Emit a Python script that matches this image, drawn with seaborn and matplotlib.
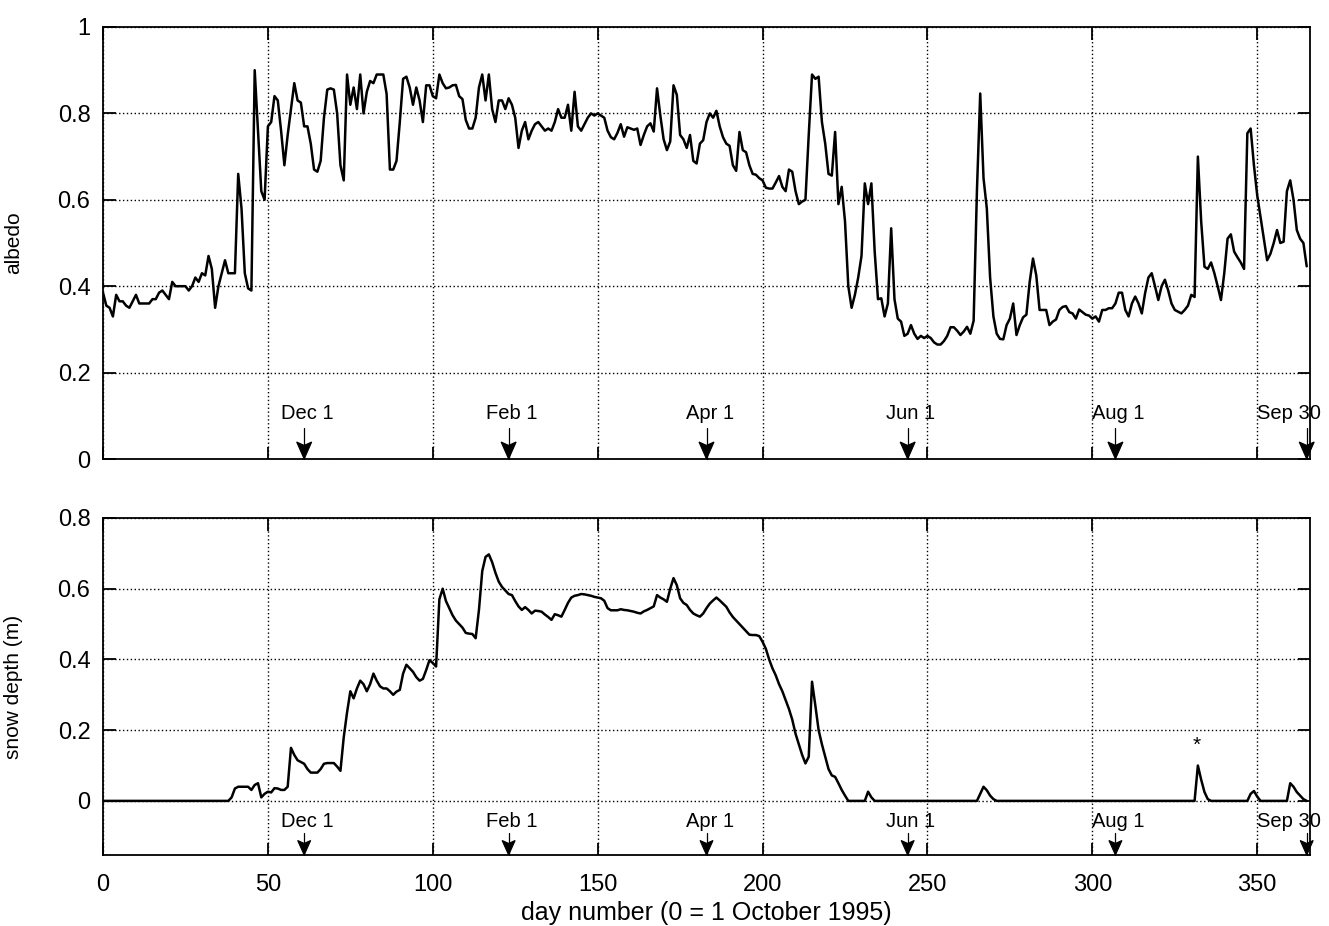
import numpy as np
import pandas as pd
import matplotlib
matplotlib.use("Agg")
import matplotlib.pyplot as plt
from matplotlib.patches import Polygon
from matplotlib.transforms import ScaledTranslation
from matplotlib.ticker import FuncFormatter
import seaborn as sns

# Daily surface albedo, day 0 = 1 October 1995
albedo = [
    0.385, 0.355, 0.35, 0.33, 0.38, 0.365, 0.365, 0.355, 0.35, 0.365,
    0.38, 0.36, 0.36, 0.36, 0.36, 0.37, 0.37, 0.385, 0.39, 0.38,
    0.37, 0.41, 0.40, 0.40, 0.40, 0.40, 0.39, 0.40, 0.42, 0.41,
    0.43, 0.425, 0.47, 0.44, 0.35, 0.40, 0.43, 0.46, 0.43, 0.43,
    0.43, 0.66, 0.58, 0.43, 0.395, 0.39, 0.90, 0.76, 0.62, 0.60,
    0.77, 0.78, 0.84, 0.83, 0.76, 0.68, 0.75, 0.81, 0.87, 0.83,
    0.825, 0.77, 0.77, 0.73, 0.67, 0.665, 0.69, 0.79, 0.855, 0.858,
    0.855, 0.80, 0.68, 0.645, 0.89, 0.82, 0.86, 0.81, 0.89, 0.80,
    0.85, 0.875, 0.87, 0.89, 0.89, 0.89, 0.845, 0.67, 0.67, 0.69,
    0.78, 0.88, 0.885, 0.86, 0.82, 0.86, 0.83, 0.78, 0.865, 0.865,
    0.84, 0.835, 0.89, 0.87, 0.858, 0.86, 0.865, 0.866, 0.84, 0.833,
    0.785, 0.765, 0.765, 0.79, 0.86, 0.89, 0.83, 0.89, 0.81, 0.78,
    0.83, 0.83, 0.81, 0.835, 0.82, 0.79, 0.72, 0.76, 0.78, 0.74,
    0.76, 0.775, 0.78, 0.77, 0.76, 0.765, 0.76, 0.78, 0.81, 0.79,
    0.79, 0.82, 0.76, 0.85, 0.77, 0.76, 0.775, 0.79, 0.80, 0.795,
    0.80, 0.795, 0.79, 0.76, 0.745, 0.74, 0.755, 0.775, 0.746, 0.768,
    0.765, 0.762, 0.765, 0.727, 0.75, 0.77, 0.777, 0.758, 0.858, 0.795,
    0.74, 0.715, 0.735, 0.865, 0.843, 0.75, 0.74, 0.72, 0.75, 0.69,
    0.684, 0.73, 0.738, 0.78, 0.80, 0.79, 0.806, 0.77, 0.745, 0.73,
    0.725, 0.68, 0.667, 0.757, 0.715, 0.71, 0.68, 0.66, 0.658, 0.65,
    0.645, 0.628, 0.626, 0.626, 0.64, 0.655, 0.63, 0.62, 0.67, 0.665,
    0.62, 0.59, 0.596, 0.60, 0.75, 0.89, 0.88, 0.885, 0.78, 0.73,
    0.66, 0.656, 0.757, 0.59, 0.63, 0.55, 0.40, 0.35, 0.38, 0.42,
    0.47, 0.638, 0.59, 0.638, 0.48, 0.37, 0.372, 0.33, 0.36, 0.534,
    0.37, 0.325, 0.318, 0.285, 0.29, 0.31, 0.29, 0.278, 0.285, 0.28,
    0.285, 0.28, 0.27, 0.265, 0.265, 0.273, 0.285, 0.305, 0.305, 0.297,
    0.287, 0.295, 0.306, 0.29, 0.32, 0.62, 0.846, 0.65, 0.58, 0.42,
    0.33, 0.29, 0.278, 0.277, 0.31, 0.325, 0.36, 0.287, 0.31, 0.328,
    0.334, 0.41, 0.464, 0.425, 0.345, 0.345, 0.345, 0.31, 0.318, 0.323,
    0.345, 0.352, 0.354, 0.34, 0.337, 0.325, 0.346, 0.34, 0.334, 0.332,
    0.325, 0.33, 0.318, 0.345, 0.345, 0.349, 0.349, 0.36, 0.385, 0.385,
    0.345, 0.33, 0.36, 0.376, 0.36, 0.337, 0.384, 0.42, 0.43, 0.40,
    0.368, 0.40, 0.415, 0.39, 0.36, 0.345, 0.341, 0.337, 0.345, 0.355,
    0.38, 0.375, 0.70, 0.55, 0.445, 0.44, 0.455, 0.43, 0.40, 0.368,
    0.43, 0.51, 0.52, 0.48, 0.467, 0.455, 0.44, 0.754, 0.765, 0.68,
    0.61, 0.56, 0.51, 0.46, 0.475, 0.50, 0.53, 0.50, 0.503, 0.62,
    0.645, 0.60, 0.53, 0.51, 0.50, 0.446,
]

# Daily snow depth (m)
snow = (
    [0.0] * 39
    + [0.01, 0.035, 0.04, 0.04, 0.04, 0.04, 0.031, 0.045, 0.05, 0.01, 0.02]
    + [0.026, 0.024, 0.036, 0.035, 0.031, 0.031, 0.04, 0.15, 0.13, 0.115,
       0.11, 0.105, 0.09, 0.08, 0.08, 0.08, 0.09, 0.105, 0.107, 0.107,
       0.107, 0.097, 0.085, 0.18, 0.25, 0.31, 0.29, 0.318, 0.34, 0.33,
       0.31, 0.33, 0.36, 0.34, 0.324, 0.318, 0.318, 0.31, 0.30, 0.309,
       0.314, 0.36, 0.385, 0.375, 0.365, 0.35, 0.34, 0.345, 0.37, 0.398,
       0.39, 0.38, 0.57, 0.60, 0.565, 0.545, 0.525, 0.51, 0.50, 0.49,
       0.475, 0.473, 0.472, 0.46, 0.54, 0.65, 0.69, 0.697, 0.675, 0.645,
       0.62, 0.605, 0.595, 0.585, 0.582, 0.565, 0.55, 0.54, 0.548, 0.54,
       0.53, 0.538, 0.537, 0.535, 0.527, 0.52, 0.512, 0.528, 0.525, 0.521,
       0.54, 0.56, 0.575, 0.58, 0.582, 0.585, 0.584, 0.582, 0.58, 0.577,
       0.575, 0.573, 0.566, 0.545, 0.539, 0.539, 0.539, 0.542, 0.54, 0.539,
       0.537, 0.535, 0.532, 0.53, 0.536, 0.54, 0.545, 0.55, 0.582, 0.575,
       0.57, 0.563, 0.60, 0.63, 0.61, 0.573, 0.56, 0.554, 0.54, 0.53,
       0.525, 0.521, 0.53, 0.545, 0.558, 0.567, 0.575, 0.567, 0.558, 0.549,
       0.533, 0.52, 0.51, 0.50, 0.49, 0.48, 0.47, 0.469, 0.469, 0.466,
       0.45, 0.43, 0.40, 0.375, 0.355, 0.33, 0.31, 0.285, 0.26, 0.23,
       0.19, 0.16, 0.13, 0.106, 0.125, 0.337, 0.27, 0.20, 0.16, 0.125,
       0.09, 0.072, 0.068, 0.05, 0.031, 0.015, 0.0, 0.0, 0.0, 0.0,
       0.0, 0.0, 0.026, 0.01, 0.0, 0.0, 0.0, 0.0, 0.0, 0.0]
    + [0.0] * 25
    + [0.0, 0.02, 0.04, 0.03, 0.015, 0.005]
    + [0.0] * 61
    + [0.10, 0.06, 0.025, 0.005, 0.0]
    + [0.0] * 11
    + [0.02, 0.028, 0.012, 0.0]
    + [0.0] * 8
    + [0.05, 0.04, 0.025, 0.015, 0.005, 0.0]
)

days = np.arange(len(albedo))

# Calendar markers along the day axis
month_labels = ["Dec 1", "Feb 1", "Apr 1", "Jun 1", "Aug 1", "Sep 30"]
month_days = [61, 123, 183, 244, 307, 365]

x_ticks = [0, 50, 100, 150, 200, 250, 300, 350]
albedo_ticks = [0, 0.2, 0.4, 0.6, 0.8, 1.0]
snow_ticks = [0, 0.2, 0.4, 0.6, 0.8]

sns.set_theme(style="ticks")
plt.rcParams["font.family"] = ["Liberation Sans", "DejaVu Sans"]
plt.rcParams["text.color"] = "black"
plt.rcParams["axes.labelcolor"] = "black"

df = pd.DataFrame({"day": days, "albedo": albedo, "snow": snow})

W, H = 1329, 926
fig = plt.figure(figsize=(W / 100, H / 100), dpi=100)
fig.patch.set_facecolor("white")
ax1 = fig.add_axes([103 / W, 1 - 459 / H, 1207 / W, 432 / H])
ax2 = fig.add_axes([103 / W, 1 - 855 / H, 1207 / W, 337 / H])

sns.lineplot(data=df, x="day", y="albedo", ax=ax1, color="black", lw=1.8)
sns.lineplot(data=df, x="day", y="snow", ax=ax2, color="black", lw=1.8)

fmt = FuncFormatter(lambda v, _: f"{v:g}")
for ax in (ax1, ax2):
    ax.set_facecolor("white")
    ax.set_xlim(0, 366)
    ax.set_xticks(x_ticks)
    ax.yaxis.set_major_formatter(fmt)
    ax.set_axisbelow(True)
    ax.grid(True, color="black", linestyle=(0, (1, 1.8)), linewidth=1.0)
    ax.tick_params(direction="in", top=True, right=True, length=9,
                   width=1.3, labelsize=17, colors="black", pad=9)
    ax.tick_params(axis="x", pad=14)
    for sp in ax.spines.values():
        sp.set_color("black")
        sp.set_linewidth(1.3)
    ax.set_xlabel("")

ax1.set_ylim(0, 1)
ax1.set_yticks(albedo_ticks)
ax1.tick_params(labelbottom=False)
ax1.set_ylabel("albedo", fontsize=15)
ax1.yaxis.set_label_coords(-0.066, 0.5)

ax2.set_ylim(-0.153, 0.8)
ax2.set_yticks(snow_ticks)
ax2.set_ylabel("snow depth (m)", fontsize=15)
ax2.yaxis.set_label_coords(-0.066, 0.5)
ax2.set_xlabel("day number (0 = 1 October 1995)", fontsize=18, labelpad=3)


def arrow_head(ax, d, h_in, w_in):
    """Filled, notched arrowhead (sized in inches) with its tip on the day axis."""
    verts = [(0.0, 0.0), (-w_in / 2, h_in), (0.0, 0.8 * h_in), (w_in / 2, h_in)]
    tr = fig.dpi_scale_trans + ScaledTranslation(d, 0.0, ax.get_xaxis_transform())
    ax.add_patch(Polygon(verts, closed=True, transform=tr, facecolor="black",
                         edgecolor="black", lw=0.8, clip_on=False, zorder=6))


# Month markers: label above a downward arrow ending on the day axis
for ax, text_y, arrow_top, h_in, w_in in ((ax1, 0.093, 0.072, 0.17, 0.15),
                                          (ax2, 0.083, 0.066, 0.145, 0.13)):
    trans = ax.get_xaxis_transform()
    for lab, d in zip(month_labels, month_days):
        ax.plot([d, d], [0.0, arrow_top], transform=trans, color="black",
                lw=0.9, clip_on=False, zorder=5)
        arrow_head(ax, d, h_in, w_in)
        tx = d + 1 if d < 360 else d - 5.5
        ax.text(tx, text_y, lab, transform=trans,
                ha="center", va="baseline", fontsize=14.5, color="black",
                clip_on=False)

ax2.text(331.5, 0.158, "*", ha="center", va="center", fontsize=15, color="black")

fig.savefig("out.png", dpi=100, facecolor="white")
